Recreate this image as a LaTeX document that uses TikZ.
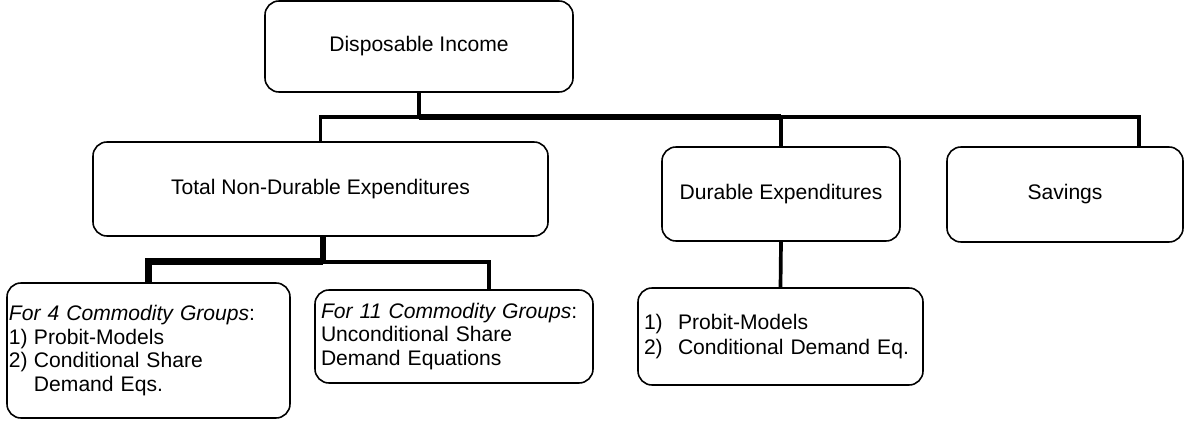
\documentclass[tikz,border=0pt]{standalone}
\usepackage{fontspec}
\setmainfont{Liberation Sans}
\usetikzlibrary{calc}

\newcommand{\numlabel}[2][0.5cm]{\makebox[#1][l]{#2}}

\tikzset{
  box/.style={draw, line width=0.9pt, rounded corners=0.28cm, inner sep=0pt,
    font=\fontsize{12pt}{13.6pt}\selectfont},
  listbox/.style={box, align=left, inner xsep=0.12cm},
  link/.style={line width=2.1pt},
  trunk/.style={line width=3.8pt}
}

\begin{document}
\begin{tikzpicture}
		\useasboundingbox (0,0) rectangle (23.7,-8.46);
		
		% upper level
		\node[box, minimum width=6.16cm, minimum height=1.82cm] (income) at (8.38,-0.93) {Disposable Income};
		\node[box, minimum width=9.10cm, minimum height=1.88cm] (nondur) at (6.41,-3.78) {Total Non-Durable Expenditures};
		\node[box, minimum width=4.76cm, minimum height=1.88cm] (dur) at (15.62,-3.88) {Durable Expenditures};
		\node[box, minimum width=4.72cm, minimum height=1.90cm] (sav) at (21.30,-3.89) {Savings};
		
		% lower level
		\node[listbox, inner xsep=0.04cm, text width=5.58cm, minimum height=2.70cm] (four) at (2.97,-7.01)
			{\textit{For 4 Commodity Groups}:\\
			 \numlabel{1)}Probit-Models\\
			 \numlabel{2)}Conditional Share\\
			 \numlabel{}Demand Eqs.};
		\node[listbox, text width=5.32cm, minimum height=1.86cm] (eleven) at (9.08,-6.73)
			{\textit{For 11 Commodity Groups}:\\
			 Unconditional Share\\
			 Demand Equations};
		\node[listbox, text width=5.46cm, minimum height=1.94cm] (durmod) at (15.61,-6.73)
			{\numlabel[0.68cm]{1)}Probit-Models\\[0.04cm]
			 \numlabel[0.68cm]{2)}Conditional Demand Eq.};
		
		\coordinate (hub) at (8.38,-2.34);
		\coordinate (savtop) at ([xshift=-0.9cm]sav.north east);
		\coordinate (split) at ($(nondur.south)+(0.05,-0.5)$);
		\coordinate (eleventop) at ([xshift=3.5cm]eleven.north west);
		
		% connectors
		\draw[link] (income.south) -- (hub);
		\draw[link] (hub) -| (nondur.north);
		\draw[trunk] (hub) -- (hub -| dur.north);
		\draw[link] (hub -| dur.north) -- (dur.north);
		\draw[link] (hub -| dur.north) -| (savtop);
		\draw[trunk] (split |- nondur.south) -- (split);
		\draw[trunk] (split) -| (four.north);
		\draw[link] (split) -| (eleventop);
		\draw[link] (dur.south) -- (durmod.north);
		\end{tikzpicture}
\end{document}
